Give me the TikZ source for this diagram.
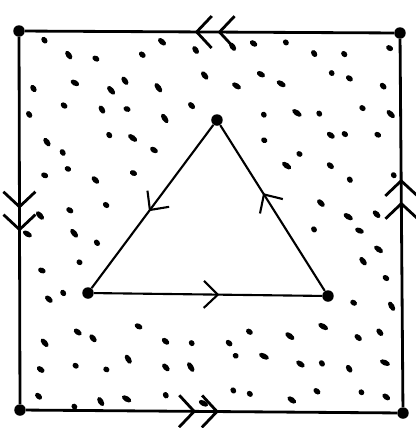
\documentclass[tikz,border=0pt]{standalone}
\usetikzlibrary{arrows.meta,decorations.markings}

\tikzset{
  >={Straight Barb[length=2.8mm,width=5.4mm]},
  vertex/.style={circle,fill,inner sep=0pt,minimum size=2.3mm},
  onearrow/.style={postaction={decorate,decoration={markings,mark=at position #1 with {\arrow{>}}}}},
  twoarrow/.style={postaction={decorate,decoration={markings,mark=at position #1 with {\arrow{Straight Barb[length=3mm,width=6.4mm,sep=0.9mm] Straight Barb[length=3mm,width=6.4mm]}}}}}
}

\begin{document}
\begin{tikzpicture}[x=2cm,y=-2cm]

  \useasboundingbox (0,0) rectangle (4.16,4.28);

  % dots between the square and the triangle
  \pgfmathsetseed{31}
  \foreach \gx in {0,...,11}{
    \foreach \gy in {0,...,11}{
      \pgfmathsetmacro\px{0.38+0.315*\gx+0.11*rand}
      \pgfmathsetmacro\py{0.50+0.315*\gy+0.11*rand}
      \pgfmathsetmacro\da{(1.73*(\px-2.17)+1.29*(\py-1.20))/2.158}
      \pgfmathsetmacro\db{(0.03*(\px-0.88)-2.40*(\py-2.93))/2.40}
      \pgfmathsetmacro\dc{(-1.76*(\px-3.28)+1.11*(\py-2.96))/2.081}
      \pgfmathtruncatemacro\keep{min(\da,\db,\dc)<-0.15}
      \pgfmathsetmacro\ang{-40+20*rand}
      \pgfmathsetmacro\len{0.6+0.5*rnd}
      \ifnum\keep=1
        \fill[rotate around={\ang:(\px,\py)}] (\px,\py) ellipse (\len mm and 0.55mm);
      \fi
    }
  }

  \node[vertex] (tl) at (0.19,0.31) {};
  \node[vertex] (tr) at (4.00,0.33) {};
  \node[vertex] (bl) at (0.20,4.10) {};
  \node[vertex] (br) at (4.03,4.13) {};

  \node[vertex] (top) at (2.17,1.20) {};
  \node[vertex] (left) at (0.88,2.93) {};
  \node[vertex] (right) at (3.28,2.96) {};

  \draw[line width=1.6pt,twoarrow=0.54] (tr) -- (tl);
  \draw[line width=1.6pt,twoarrow=0.53] (tl) -- (bl);
  \draw[line width=1.6pt,twoarrow=0.52] (bl) -- (br);
  \draw[line width=1.6pt,twoarrow=0.62] (br) -- (tr);

  \draw[line width=1.2pt,onearrow=0.53] (top) -- (left);
  \draw[line width=1.2pt,onearrow=0.55] (left) -- (right);
  \draw[line width=1.2pt,onearrow=0.59] (right) -- (top);

\end{tikzpicture}
\end{document}
